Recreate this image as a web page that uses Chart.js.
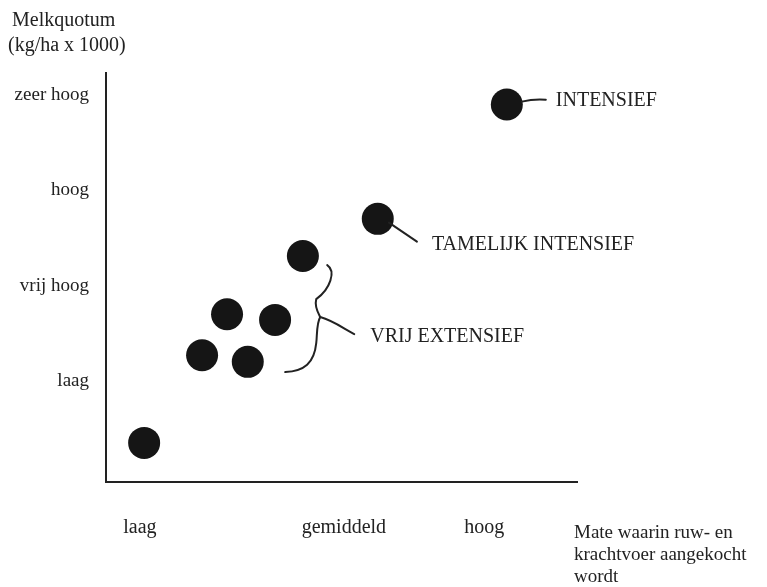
<!DOCTYPE html>
<html lang="nl">

<head>
    <meta charset="UTF-8">
    <title>Melkquotum en aankoop van voer</title>
    <script src="https://cdn.jsdelivr.net/npm/chart.js"></script>
    <style>
        body {
            margin: 0;
            padding: 0;
            background: #ffffff;
        }

        .chart-box {
            width: 767px;
            height: 587px;
        }
    </style>
</head>

<body>
    <div class="chart-box">
        <canvas id="farmChart"></canvas>
    </div>
    <script>
        // Positions (x: 0..10 along the axis, y: laag = 1 .. zeer hoog = 4)
        const farmX = [0.81, 2.04, 2.57, 3.01, 3.59, 4.18, 5.77, 8.51];
        const farmY = [0.35, 1.27, 1.70, 1.20, 1.64, 2.31, 2.70, 3.90];

        const xTickValues = [0.72, 5.05, 8.03];
        const xTickLabels = ['laag', 'gemiddeld', 'hoog'];
        const yTickValues = [1, 2, 3, 4];
        const yTickLabels = ['laag', 'vrij hoog', 'hoog', 'zeer hoog'];

        const groupLabels = ['INTENSIEF', 'TAMELIJK INTENSIEF', 'VRIJ EXTENSIEF'];
        const yTitle = ['Melkquotum', '(kg/ha x 1000)'];
        const xTitle = ['Mate waarin ruw- en', 'krachtvoer aangekocht', 'wordt'];

        const ink = '#222222';
        const serif = "'Liberation Serif', 'DejaVu Serif', serif";

        // labels, leader lines and the brace
        const annotationPlugin = {
            id: 'annotations',
            afterDatasetsDraw(chart) {
                const ctx = chart.ctx;
                const xs = chart.scales.x;
                const ys = chart.scales.y;
                const at = (vx, vy) => [xs.getPixelForValue(vx), ys.getPixelForValue(vy)];

                ctx.save();
                ctx.fillStyle = ink;
                ctx.strokeStyle = ink;
                ctx.lineWidth = 2;
                ctx.lineCap = 'round';
                ctx.font = '20px ' + serif;
                ctx.textBaseline = 'middle';
                ctx.textAlign = 'left';

                // INTENSIEF
                let [ax, ay] = at(9.55, 3.94);
                ctx.fillText(groupLabels[0], ax, ay);
                ctx.beginPath();
                ctx.moveTo(ax - 34, ay + 1);
                ctx.quadraticCurveTo(ax - 22, ay - 2, ax - 10, ay - 1);
                ctx.stroke();

                // TAMELIJK INTENSIEF
                [ax, ay] = at(6.92, 2.43);
                ctx.fillText(groupLabels[1], ax, ay);
                ctx.beginPath();
                ctx.moveTo(ax - 43, ay - 22);
                ctx.lineTo(ax - 15, ay - 3);
                ctx.stroke();

                // VRIJ EXTENSIEF with curly brace
                [ax, ay] = at(5.61, 1.46);
                ctx.fillText(groupLabels[2], ax, ay);
                ctx.beginPath();
                ctx.moveTo(ax - 43, ay - 72);
                ctx.bezierCurveTo(ax - 34, ay - 66, ax - 40, ay - 48, ax - 54, ay - 38);
                ctx.bezierCurveTo(ax - 56, ay - 30, ax - 52, ay - 24, ax - 50, ay - 20);
                ctx.bezierCurveTo(ax - 54, ay - 14, ax - 53, ay, ax - 54, ay + 6);
                ctx.bezierCurveTo(ax - 56, ay + 26, ax - 66, ay + 34, ax - 85, ay + 35);
                ctx.stroke();
                ctx.beginPath();
                ctx.moveTo(ax - 50, ay - 20);
                ctx.bezierCurveTo(ax - 36, ay - 16, ax - 26, ay - 8, ax - 16, ay - 3);
                ctx.stroke();

                // axis titles
                ctx.fillText(yTitle[0], 12, 21);
                ctx.fillText(yTitle[1], 8, 46);
                ctx.font = '19px ' + serif;
                xTitle.forEach((line, i) => ctx.fillText(line, 574, 533 + i * 22));
                ctx.restore();
            }
        };

        function generateChart() {
            const ctx = document.getElementById('farmChart').getContext('2d');
            new Chart(ctx, {
                type: 'scatter',
                data: {
                    datasets: [{
                        label: 'Bedrijven',
                        data: farmX.map((x, i) => ({ x: x, y: farmY[i] })),
                        backgroundColor: '#151515',
                        borderWidth: 0,
                        pointRadius: 16,
                        pointHoverRadius: 16
                    }]
                },
                options: {
                    responsive: true,
                    maintainAspectRatio: false,
                    animation: false,
                    events: [],
                    layout: { padding: { top: 73, right: 190, left: 0, bottom: 0 } },
                    plugins: {
                        legend: { display: false },
                        tooltip: { enabled: false }
                    },
                    scales: {
                        x: {
                            type: 'linear',
                            min: 0,
                            max: 10,
                            grid: { display: false, drawTicks: false },
                            border: { display: true, color: ink, width: 2 },
                            afterBuildTicks: scale => {
                                scale.ticks = xTickValues.map(v => ({ value: v }));
                            },
                            afterFit: scale => { scale.height = 105; },
                            ticks: {
                                color: ink,
                                padding: 34,
                                maxRotation: 0,
                                autoSkip: false,
                                font: { family: serif, size: 20 },
                                callback: value => xTickLabels[xTickValues.indexOf(value)]
                            }
                        },
                        y: {
                            type: 'linear',
                            min: -0.06,
                            max: 4.23,
                            grid: { display: false, drawTicks: false },
                            border: { display: true, color: ink, width: 2 },
                            afterBuildTicks: scale => {
                                scale.ticks = yTickValues.map(v => ({ value: v }));
                            },
                            afterFit: scale => { scale.width = 106; },
                            ticks: {
                                color: ink,
                                padding: 17,
                                autoSkip: false,
                                font: { family: serif, size: 19 },
                                callback: value => yTickLabels[yTickValues.indexOf(value)]
                            }
                        }
                    }
                },
                plugins: [annotationPlugin]
            });
        }

        generateChart();
    </script>
</body>

</html>
